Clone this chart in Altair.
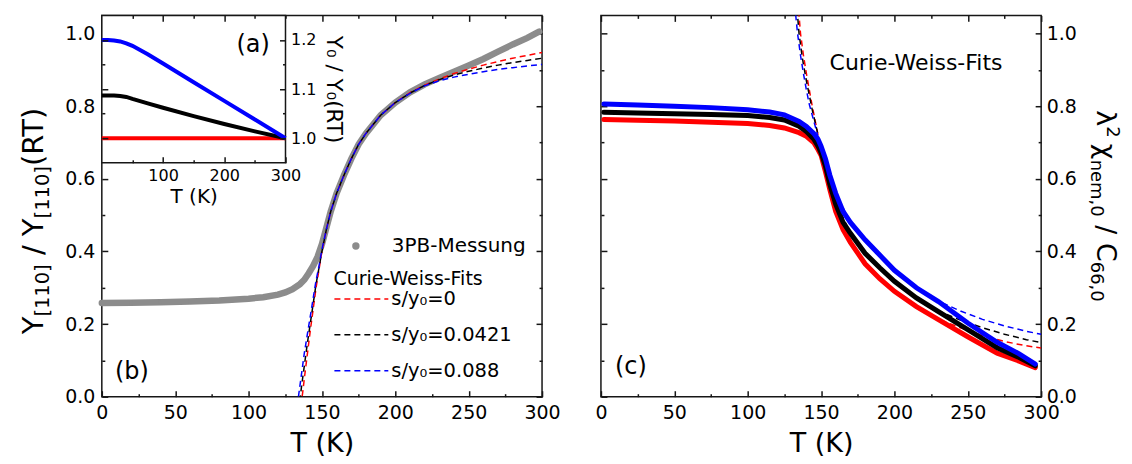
import altair as alt
import pandas as pd

FONT = "DejaVu Sans"
GRAY = "#8c8c8c"
RED = "#ff0000"
BLACK = "#000000"
BLUE = "#0000ff"
INK = "#161616"

# ---------------- data ----------------
# (b) three-point-bending measurement  Y[110]/Y[110](RT)
meas_T = [0, 20, 40, 60, 80, 100, 110, 120, 125, 130, 135, 138, 141, 144, 147, 150, 153, 156, 160,
          165, 170, 175, 180, 190, 200, 210, 220, 230, 240, 250, 260, 270, 280, 290, 298]
meas_Y = [0.258, 0.259, 0.260, 0.262, 0.265, 0.270, 0.274, 0.281, 0.287, 0.296, 0.310, 0.322, 0.340,
          0.360, 0.385, 0.420, 0.465, 0.510, 0.560, 0.610, 0.655, 0.695, 0.725, 0.775, 0.810, 0.838,
          0.860, 0.878, 0.895, 0.912, 0.930, 0.950, 0.970, 0.988, 1.005]

fit_labels = ["s/y\u2080=0", "s/y\u2080=0.0421", "s/y\u2080=0.088"]
fitb_T = [134, 135, 136, 137, 138, 140, 142, 144, 146, 148, 150, 153, 156, 160, 165, 170, 175, 180,
          190, 200, 210, 220, 230, 240, 250, 260, 270, 280, 290, 300]
fitb_s0 = [-0.08, -0.05, -0.015, 0.015, 0.05, 0.115, 0.18, 0.24, 0.30, 0.35, 0.40, 0.46, 0.51, 0.56,
           0.61, 0.655, 0.695, 0.725, 0.775, 0.81, 0.837, 0.858, 0.875, 0.89, 0.902, 0.913, 0.923,
           0.932, 0.94, 0.948]
fitb_s1 = [-0.04, -0.01, 0.025, 0.055, 0.085, 0.145, 0.20, 0.255, 0.31, 0.355, 0.40, 0.46, 0.51, 0.56,
           0.61, 0.655, 0.695, 0.725, 0.775, 0.81, 0.836, 0.857, 0.873, 0.886, 0.896, 0.905, 0.913,
           0.92, 0.926, 0.932]
fitb_s2 = [0.0, 0.03, 0.06, 0.09, 0.12, 0.17, 0.22, 0.27, 0.32, 0.36, 0.405, 0.46, 0.51, 0.56, 0.61,
           0.655, 0.695, 0.725, 0.775, 0.81, 0.835, 0.856, 0.87, 0.88, 0.888, 0.895, 0.901, 0.906,
           0.911, 0.915]

# (a) inset  Y0 / Y0(RT)
ins_T = [0, 10, 20, 30, 40, 50, 75, 100, 150, 200, 250, 300]
ins_s0 = [1.000, 1.000, 1.000, 1.000, 1.000, 1.000, 1.000, 1.000, 1.000, 1.000, 1.000, 1.000]
ins_s1 = [1.087, 1.087, 1.087, 1.086, 1.084, 1.080, 1.071, 1.062, 1.045, 1.029, 1.014, 1.000]
ins_s2 = [1.200, 1.200, 1.199, 1.197, 1.193, 1.188, 1.171, 1.152, 1.114, 1.076, 1.038, 1.000]

# (c) lambda^2 chi_nem,0 / C66,0
c_T = [2, 25, 50, 75, 100, 115, 125, 135, 140, 145, 148, 150, 153, 156, 160, 165, 170, 180, 190, 200,
       215, 230, 250, 270, 285, 296]
c_s0 = [0.763, 0.761, 0.759, 0.756, 0.752, 0.747, 0.740, 0.727, 0.717, 0.700, 0.680, 0.665, 0.620,
        0.570, 0.510, 0.460, 0.425, 0.366, 0.325, 0.290, 0.248, 0.212, 0.165, 0.120, 0.098, 0.080]
c_s1 = [0.783, 0.781, 0.779, 0.777, 0.774, 0.769, 0.762, 0.745, 0.730, 0.710, 0.690, 0.672, 0.635,
        0.585, 0.530, 0.480, 0.450, 0.395, 0.355, 0.318, 0.272, 0.234, 0.185, 0.135, 0.108, 0.085]
c_s2 = [0.806, 0.803, 0.800, 0.796, 0.790, 0.784, 0.776, 0.758, 0.744, 0.725, 0.708, 0.690, 0.655,
        0.610, 0.560, 0.510, 0.480, 0.432, 0.390, 0.348, 0.300, 0.262, 0.203, 0.150, 0.118, 0.090]

fitc_T = [132, 133, 134, 135, 136, 137, 138, 140, 142, 144, 146, 148, 150, 155, 160, 170, 180, 190,
          200, 215, 230, 245, 260, 275, 290, 300]
fitc_s0 = [1.20, 1.15, 1.10, 1.05, 1.0, 0.97, 0.94, 0.89, 0.845, 0.80, 0.76, 0.72, 0.675, 0.58, 0.512,
           0.425, 0.366, 0.325, 0.29, 0.248, 0.213, 0.19, 0.168, 0.152, 0.14, 0.134]
fitc_s1 = [1.15, 1.10, 1.05, 1.0, 0.97, 0.94, 0.915, 0.87, 0.83, 0.79, 0.755, 0.72, 0.68, 0.605,
           0.535, 0.45, 0.396, 0.355, 0.318, 0.273, 0.236, 0.211, 0.19, 0.172, 0.157, 0.149]
fitc_s2 = [1.08, 1.04, 1.0, 0.97, 0.94, 0.915, 0.89, 0.845, 0.805, 0.775, 0.745, 0.715, 0.69, 0.62,
           0.56, 0.48, 0.432, 0.39, 0.348, 0.302, 0.263, 0.236, 0.213, 0.195, 0.18, 0.172]

X_MAJOR = [0, 50, 100, 150, 200, 250, 300]
X_MINOR = [25, 75, 125, 175, 225, 275]
Y_MAJOR = [0.0, 0.2, 0.4, 0.6, 0.8, 1.0]
Y_MINOR = [0.1, 0.3, 0.5, 0.7, 0.9]

# ---------------- layout ----------------
W, H = 441, 382           # each main frame
IW, IH = 184, 147.7       # inset frame (top-left corner of panel b)


def lin(domain, rng=None):
    kw = dict(domain=domain, nice=False, zero=False)
    if rng is not None:
        kw["range"] = rng
    return alt.Scale(**kw)


def XS():
    return lin([0, 300])


def YS():
    return lin([0, 1.05])


def IXS():
    return lin([0, 300], [0, IW])


def IYS():
    return lin([0.95, 1.25], [IH, 0])


def ticks(orient, values, size, shift=0.0, z=0, **kw):
    """inward-pointing ticks: the axis line is moved into the frame by its tick length"""
    labels = kw.pop("labels", False)
    return alt.Axis(orient=orient, values=values, tickSize=size, offset=-(size + shift),
                    domain=False, grid=False, tickColor=INK, tickWidth=1.5, zindex=z,
                    labels=labels, **kw)


def labelled(size, pad, fmt, **kw):
    d = dict(labels=True, labelFont=FONT, labelFontSize=size, labelColor="#000000",
             labelFlush=False, labelOverlap=False, labelPadding=pad, format=fmt)
    d.update(kw)
    return d


def titled(size, pad, **kw):
    d = dict(titleFont=FONT, titleFontSize=size, titleFontWeight="normal",
             titleColor="#000000", titlePadding=pad)
    d.update(kw)
    return d


# DejaVu Sans advance widths (em) for composing titles with sub/superscripts
EM = {"Y": 0.612, "[": 0.390, "]": 0.390, "1": 0.636, "0": 0.636, "6": 0.636, "2": 0.636,
      "/": 0.337, "(": 0.390, ")": 0.390, "R": 0.695, "T": 0.611,
      "\u03bb": 0.592, "\u03c7": 0.592, "n": 0.634, "e": 0.615, "m": 0.974, ",": 0.318, "C": 0.698}


def run_len(txt, fs):
    return sum(EM.get(c, 0.6) for c in txt) * fs


def stack(pieces, centre, sign):
    """pieces: (text, font size, baseline position, gap before in px)"""
    total = sum(run_len(t, fs) + g for t, fs, _, g in pieces)
    pos = centre - sign * total / 2
    rows = []
    for t, fs, px, g in pieces:
        pos += sign * g
        rows.append({"txt": t, "fs": fs, "px": px, "py": pos})
        pos += sign * run_len(t, fs)
    return pd.DataFrame(rows)


def title_layer(df, angle):
    return alt.Chart(df).mark_text(angle=angle, align="left", baseline="alphabetic",
                                   font=FONT, color="#000000").encode(
        x=alt.X("px:Q", scale=None, axis=None),
        y=alt.Y("py:Q", scale=None, axis=None),
        size=alt.Size("fs:Q", scale=None, legend=None),
        text="txt:N")


def long(T, series, key, names):
    return pd.concat([pd.DataFrame({"T": T, key: vals, "fit": n}) for n, vals in zip(names, series)],
                     ignore_index=True)


one = pd.DataFrame({"k": [0]})
fit_colors = alt.Scale(domain=fit_labels, range=[RED, BLACK, BLUE])

meas_df = pd.DataFrame({"T": meas_T, "Y": meas_Y, "s": "3PB-Messung"})
fitb_df = long(fitb_T, [fitb_s0, fitb_s1, fitb_s2], "Y", fit_labels)
ins_df = long(ins_T, [ins_s0, ins_s1, ins_s2], "R", fit_labels)
c_df = long(c_T, [c_s0, c_s1, c_s2], "V", fit_labels)
fitc_df = long(fitc_T, [fitc_s0, fitc_s1, fitc_s2], "V", fit_labels)

# ---------------- panel (b) ----------------
b_line = alt.Chart(meas_df).mark_line(color=GRAY, strokeWidth=6.5, strokeCap="round").encode(
    x=alt.X("T:Q", scale=XS(), title="T (K)",
            axis=ticks("bottom", X_MAJOR, 6, **labelled(19, 7, "d"), **titled(27, 8))),
    y=alt.Y("Y:Q", scale=YS(), title=None,
            axis=ticks("left", Y_MAJOR, 6, **labelled(19, 7, ".1f"))))

b_pts = alt.Chart(meas_df).mark_point(filled=True, size=18, color=GRAY, opacity=1).encode(
    x=alt.X("T:Q", scale=XS(), title=None, axis=ticks("bottom", X_MINOR, 3)),
    y=alt.Y("Y:Q", scale=YS(), title=None, axis=ticks("left", Y_MINOR, 3)),
    shape=alt.Shape("s:N", title=None,
                    scale=alt.Scale(domain=["3PB-Messung"], range=["circle"]),
                    legend=alt.Legend(orient="none", legendX=244.5, legendY=221, padding=0,
                                      symbolSize=55, symbolFillColor=GRAY, symbolStrokeColor=GRAY,
                                      symbolStrokeWidth=0, clipHeight=20, labelOffset=26,
                                      labelFont=FONT, labelFontSize=20, labelColor="#000000")))

b_fit = alt.Chart(fitb_df).mark_line(strokeWidth=1.5, strokeDash=[6, 4], clip=True).encode(
    x=alt.X("T:Q", scale=XS(), title=None, axis=ticks("top", X_MAJOR, 6)),
    y=alt.Y("Y:Q", scale=YS(), title=None, axis=ticks("right", Y_MAJOR, 6)),
    color=alt.Color("fit:N", title="Curie-Weiss-Fits", scale=fit_colors,
                    legend=alt.Legend(orient="none", legendX=232, legendY=255, padding=0,
                                      direction="vertical", symbolType="stroke", symbolSize=2916,
                                      symbolStrokeWidth=1.5, symbolDash=[6, 4], clipHeight=20,
                                      rowPadding=16, labelOffset=2, symbolOffset=0,
                                      labelFont=FONT, labelFontSize=19.5, labelColor="#000000",
                                      titleFont=FONT, titleFontSize=19, titleFontWeight="normal",
                                      titleColor="#000000", titlePadding=0)))

b_minor = alt.Chart(meas_df).mark_point(opacity=0).encode(
    x=alt.X("T:Q", scale=XS(), title=None, axis=ticks("top", X_MINOR, 3)),
    y=alt.Y("Y:Q", scale=YS(), title=None, axis=ticks("right", Y_MINOR, 3)))

b_tag = alt.Chart(one).mark_text(text="(b)", font=FONT, fontSize=24, align="left",
                                 baseline="middle", color="#000000").encode(
    x=alt.XDatum(9, type="quantitative", scale=XS(), axis=None),
    y=alt.YDatum(0.069, type="quantitative", scale=YS(), axis=None))

anchor = alt.Chart(one).mark_rule(strokeOpacity=0).encode(
    x=alt.value(-101), x2=alt.value(-101), y=alt.value(-14), y2=alt.value(-10))

# inset (a)
i_box = alt.Chart(one).mark_rect(fill="white", stroke=INK, strokeWidth=1.5).encode(
    x=alt.XDatum(0, type="quantitative", scale=IXS(),
                 axis=ticks("bottom", [100, 200, 300], 6, shift=H - IH, z=1,
                            **labelled(16, 5, "d"), **titled(20, 3, title="T (K)"))),
    x2=alt.X2Datum(300),
    y=alt.YDatum(0.95, type="quantitative", scale=IYS(),
                 axis=ticks("right", [1.0, 1.1, 1.2], 6, shift=W - IW, z=1,
                            **labelled(16, 5, ".1f"),
                            **titled(21.5, 6, title="Y\u2080 / Y\u2080(RT)"))),
    y2=alt.Y2Datum(1.25))

i_lines = alt.Chart(ins_df).mark_line(strokeWidth=4).encode(
    x=alt.X("T:Q", scale=IXS(), title=None,
            axis=ticks("bottom", [50, 150, 250], 3, shift=H - IH, z=1)),
    y=alt.Y("R:Q", scale=IYS(), title=None,
            axis=ticks("right", [1.05, 1.15], 3, shift=W - IW, z=1)),
    color=alt.Color("fit:N", scale=fit_colors, legend=None))

i_major = alt.Chart(ins_df).mark_point(opacity=0).encode(
    x=alt.X("T:Q", scale=IXS(), title=None, axis=ticks("top", [100, 200], 6, z=1)),
    y=alt.Y("R:Q", scale=IYS(), title=None, axis=ticks("left", [1.0, 1.1, 1.2], 6, z=1)))

i_minor = alt.Chart(ins_df).mark_point(opacity=0).encode(
    x=alt.X("T:Q", scale=IXS(), title=None, axis=ticks("top", [50, 150, 250], 3, z=1)),
    y=alt.Y("R:Q", scale=IYS(), title=None, axis=ticks("left", [1.05, 1.15], 3, z=1)))

a_tag = alt.Chart(one).mark_text(text="(a)", font=FONT, fontSize=24, align="left",
                                 baseline="middle", color="#000000").encode(
    x=alt.XDatum(220, type="quantitative", scale=IXS(), axis=None),
    y=alt.YDatum(1.19, type="quantitative", scale=IYS(), axis=None))

SPB = 0.318 * 29
b_title = title_layer(stack([("Y", 29, -59, 0), ("[110]", 19.5, -53, 0), ("/", 29, -59, SPB),
                             ("Y", 29, -59, SPB), ("[110]", 19.5, -53, 0), ("(RT)", 29, -59, 0)],
                            205, -1), 270)

pb = alt.layer(b_line, b_pts, b_fit, b_minor, b_tag, anchor,
               i_box, i_lines, i_major, i_minor, a_tag, b_title).resolve_scale(
    x="independent", y="independent", color="independent", shape="independent",
    size="independent").resolve_axis(x="independent", y="independent").properties(
    width=W, height=H)

# ---------------- panel (c) ----------------
c_fit = alt.Chart(fitc_df).mark_line(strokeWidth=1.5, strokeDash=[6, 4], clip=True).encode(
    x=alt.X("T:Q", scale=XS(), title="T (K)",
            axis=ticks("bottom", X_MAJOR, 6, **labelled(19, 7, "d"), **titled(27, 8))),
    y=alt.Y("V:Q", scale=YS(), title=None,
            axis=ticks("right", Y_MAJOR, 6, **labelled(19, 5, ".1f"))),
    color=alt.Color("fit:N", scale=fit_colors, legend=None))

c_solid = alt.Chart(c_df).mark_line(strokeWidth=5, strokeCap="round").encode(
    x=alt.X("T:Q", scale=XS(), title=None, axis=ticks("bottom", X_MINOR, 3)),
    y=alt.Y("V:Q", scale=YS(), title=None, axis=ticks("right", Y_MINOR, 3)),
    color=alt.Color("fit:N", scale=fit_colors, legend=None))

c_major = alt.Chart(c_df).mark_point(opacity=0).encode(
    x=alt.X("T:Q", scale=XS(), title=None, axis=ticks("top", X_MAJOR, 6)),
    y=alt.Y("V:Q", scale=YS(), title=None, axis=ticks("left", Y_MAJOR, 6)))

c_minor = alt.Chart(c_df).mark_point(opacity=0).encode(
    x=alt.X("T:Q", scale=XS(), title=None, axis=ticks("top", X_MINOR, 3)),
    y=alt.Y("V:Q", scale=YS(), title=None, axis=ticks("left", Y_MINOR, 3)))

c_tag = alt.Chart(one).mark_text(text="(c)", font=FONT, fontSize=24, align="left",
                                 baseline="middle", color="#000000").encode(
    x=alt.XDatum(9.5, type="quantitative", scale=XS(), axis=None),
    y=alt.YDatum(0.083, type="quantitative", scale=YS(), axis=None))

c_note = alt.Chart(one).mark_text(text="Curie-Weiss-Fits", font=FONT, fontSize=22, align="left",
                                  baseline="middle", color="#000000").encode(
    x=alt.XDatum(155.8, type="quantitative", scale=XS(), axis=None),
    y=alt.YDatum(0.918, type="quantitative", scale=YS(), axis=None))

# keeps the page's right edge at the window edge so nothing on the right is trimmed
anchor_r = alt.Chart(one).mark_rule(strokeOpacity=0).encode(
    x=alt.value(W + 90), x2=alt.value(W + 90), y=alt.value(100), y2=alt.value(104))

SPC = 0.318 * 27
c_title = title_layer(stack([("\u03bb", 27, 497, 0), ("2", 18, 507, 0), ("\u03c7", 27, 497, SPC * 0.7),
                             ("nem,0", 18, 491, 0), ("/", 27, 497, SPC), ("C", 27, 497, SPC),
                             ("66,0", 18, 491, 0)], 191, 1), 90)

pc = alt.layer(c_fit, c_solid, c_major, c_minor, c_tag, c_note, anchor_r, c_title).resolve_scale(
    x="independent", y="independent", color="independent", size="independent").resolve_axis(
    x="independent", y="independent").properties(width=W, height=H)

chart = alt.hconcat(pb, pc, spacing=59, bounds="flush").resolve_scale(
    color="independent", shape="independent", size="independent").configure(
    font=FONT, padding=0).configure_view(stroke=INK, strokeWidth=1.5)

chart.save("out.html", embed_options={"renderer": "svg", "actions": False})
